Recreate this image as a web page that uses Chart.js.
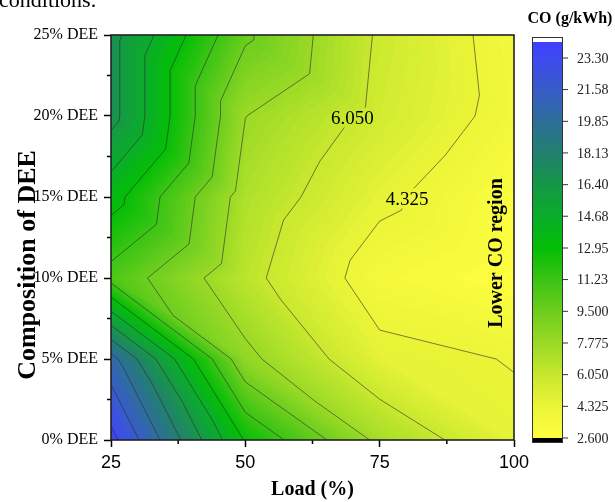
<!DOCTYPE html>
<html>
<head>
<meta charset="utf-8">
<script src="https://cdn.jsdelivr.net/npm/chart.js@4.4.0/dist/chart.umd.min.js"></script>
<style>
  html, body { margin: 0; padding: 0; background: #fff; }
  #wrap { position: relative; width: 615px; height: 502px; }
</style>
</head>
<body>
<div id="wrap"><canvas id="myChart" width="615" height="502"></canvas></div>
<script>
// grid of the measurements
const loads = [25, 50, 75, 100];
const deeLevels = [0, 5, 10, 15, 20, 25];
// CO (g/kWh) per DEE level, one value per load
const co0 = [23.9, 12.8, 7.37, 4.65];
const co5 = [20.5, 8.2, 4.75, 4.26];
const co10 = [10.62, 6.51, 3.56, 2.65];
const co15 = [13.64, 7.04, 4.65, 2.97];
const co20 = [17.0, 7.8, 5.61, 3.8];
const co25 = [17.0, 9.76, 5.84, 3.66];
const coRows = [co0, co5, co10, co15, co20, co25];

const contourLevels = [2.6, 4.325, 6.05, 7.775, 9.5, 11.23, 12.95, 14.68, 16.4, 18.13, 19.85, 21.58, 23.3];
const barLabels = ['2.600', '4.325', '6.050', '7.775', '9.500', '11.23', '12.95', '14.68', '16.40', '18.13', '19.85', '21.58', '23.30'];
const coMax = 24.17;
const yTickLabels = ['0% DEE', '5% DEE', '10% DEE', '15% DEE', '20% DEE', '25% DEE'];
const lineLabels = ['6.050', '4.325'];
const lineLabelLoad = [69.9, 80.1];
const lineLabelDEE = [19.9, 14.9];

const colorStops = [
  [2.6, [255, 255, 64]],
  [4.325, [236, 245, 56]],
  [6.05, [200, 232, 46]],
  [7.775, [155, 218, 38]],
  [9.5, [110, 206, 30]],
  [11.23, [58, 196, 20]],
  [12.95, [4, 190, 6]],
  [14.68, [10, 173, 42]],
  [16.4, [22, 152, 71]],
  [18.13, [34, 128, 111]],
  [19.85, [45, 111, 153]],
  [21.58, [56, 92, 200]],
  [23.3, [62, 74, 240]],
  [24.2, [64, 64, 255]]
];

function colorAt(v) {
  if (v <= colorStops[0][0]) return colorStops[0][1];
  for (let k = 1; k < colorStops.length; k++) {
    if (v <= colorStops[k][0]) {
      const a = colorStops[k - 1], b = colorStops[k];
      const t = (v - a[0]) / (b[0] - a[0]);
      return [0, 1, 2].map(c => a[1][c] + t * (b[1][c] - a[1][c]));
    }
  }
  return colorStops[colorStops.length - 1][1];
}

function findCell(arr, v) {
  for (let i = 0; i < arr.length - 2; i++) {
    if (v < arr[i + 1]) return i;
  }
  return arr.length - 2;
}

// linear interpolation on triangles (cell split top-left to bottom-right)
function coAt(L, D) {
  const i = findCell(loads, L), j = findCell(deeLevels, D);
  const u = (L - loads[i]) / (loads[i + 1] - loads[i]);
  const v = (D - deeLevels[j]) / (deeLevels[j + 1] - deeLevels[j]);
  const bl = coRows[j][i], br = coRows[j][i + 1], tl = coRows[j + 1][i], tr = coRows[j + 1][i + 1];
  if (u + v <= 1) return bl + u * (br - bl) + v * (tl - bl);
  return tr + (1 - u) * (tl - tr) + (1 - v) * (br - tr);
}

function triangles() {
  const out = [];
  for (let j = 0; j < deeLevels.length - 1; j++) {
    for (let i = 0; i < loads.length - 1; i++) {
      const bl = { x: loads[i], y: deeLevels[j], z: coRows[j][i] };
      const br = { x: loads[i + 1], y: deeLevels[j], z: coRows[j][i + 1] };
      const tl = { x: loads[i], y: deeLevels[j + 1], z: coRows[j + 1][i] };
      const tr = { x: loads[i + 1], y: deeLevels[j + 1], z: coRows[j + 1][i + 1] };
      out.push([bl, br, tl], [tr, tl, br]);
    }
  }
  return out;
}

function crossings(tri, c) {
  const pts = [];
  for (let k = 0; k < 3; k++) {
    const a = tri[k], b = tri[(k + 1) % 3];
    if ((a.z < c) !== (b.z < c)) {
      const t = (c - a.z) / (b.z - a.z);
      pts.push({ x: a.x + t * (b.x - a.x), y: a.y + t * (b.y - a.y) });
    }
  }
  return pts;
}

const contourPlugin = {
  id: 'contour',
  beforeDatasetsDraw(chart) {
    const ctx = chart.ctx;
    const xS = chart.scales.x, yS = chart.scales.y;
    const area = chart.chartArea;
    const x0 = Math.round(area.left), y0 = Math.round(area.top);
    const w = Math.round(area.right) - x0, h = Math.round(area.bottom) - y0;
    const img = ctx.createImageData(w, h);
    const band = 1.725 / 8;
    for (let py = 0; py < h; py++) {
      let D = yS.getValueForPixel(y0 + py + 0.5);
      D = Math.min(25, Math.max(0, D));
      for (let px = 0; px < w; px++) {
        let L = xS.getValueForPixel(x0 + px + 0.5);
        L = Math.min(100, Math.max(25, L));
        const z = Math.floor(coAt(L, D) / band) * band + band / 2;
        const col = colorAt(z);
        const o = (py * w + px) * 4;
        img.data[o] = col[0];
        img.data[o + 1] = col[1];
        img.data[o + 2] = col[2];
        img.data[o + 3] = 255;
      }
    }
    ctx.putImageData(img, x0, y0);

    // contour lines, with gaps under the labels
    ctx.save();
    ctx.font = '19px "Liberation Serif", "Times New Roman", serif';
    ctx.beginPath();
    ctx.rect(area.left, area.top, area.right - area.left, area.bottom - area.top);
    const boxes = lineLabels.map((t, k) => {
      const cx = xS.getPixelForValue(lineLabelLoad[k]);
      const cy = yS.getPixelForValue(lineLabelDEE[k]);
      const tw = ctx.measureText(t).width + 6;
      return { cx, cy, tw, th: 20 };
    });
    boxes.forEach(b => ctx.rect(b.cx - b.tw / 2, b.cy - b.th / 2, b.tw, b.th));
    ctx.clip('evenodd');
    ctx.strokeStyle = 'rgba(45,45,45,0.75)';
    ctx.lineWidth = 0.8;
    const tris = triangles();
    contourLevels.forEach(c => {
      tris.forEach(tri => {
        const p = crossings(tri, c);
        if (p.length === 2) {
          ctx.beginPath();
          ctx.moveTo(xS.getPixelForValue(p[0].x), yS.getPixelForValue(p[0].y));
          ctx.lineTo(xS.getPixelForValue(p[1].x), yS.getPixelForValue(p[1].y));
          ctx.stroke();
        }
      });
    });
    ctx.restore();

    ctx.save();
    ctx.font = '19px "Liberation Serif", "Times New Roman", serif';
    ctx.fillStyle = '#000';
    ctx.textAlign = 'center';
    ctx.textBaseline = 'middle';
    boxes.forEach((b, k) => ctx.fillText(lineLabels[k], b.cx, b.cy + 1));
    ctx.restore();
  },
  afterDraw(chart) {
    const ctx = chart.ctx;
    const xS = chart.scales.x, yS = chart.scales.y, cb = chart.scales.cb;
    const area = chart.chartArea;
    ctx.save();
    // minor ticks
    ctx.strokeStyle = '#000';
    ctx.lineWidth = 1.5;
    ctx.beginPath();
    for (let d = 2.5; d < 25; d += 5) {
      const y = yS.getPixelForValue(d);
      ctx.moveTo(area.left - 4, y);
      ctx.lineTo(area.left, y);
    }
    for (let l = 37.5; l < 100; l += 25) {
      const x = xS.getPixelForValue(l);
      ctx.moveTo(x, area.bottom);
      ctx.lineTo(x, area.bottom + 4);
    }
    ctx.stroke();
    // frame
    ctx.strokeStyle = '#222';
    ctx.lineWidth = 1.6;
    ctx.strokeRect(area.left, area.top, area.right - area.left, area.bottom - area.top);

    // colour bar
    const bx = 532, bw = 31;
    const top = Math.round(cb.getPixelForValue(coMax));
    const bottom = Math.round(cb.getPixelForValue(contourLevels[0]));
    for (let y = top; y < bottom; y++) {
      const col = colorAt(cb.getValueForPixel(y + 0.5));
      ctx.fillStyle = `rgb(${col[0] | 0},${col[1] | 0},${col[2] | 0})`;
      ctx.fillRect(bx, y, bw, 1);
    }
    ctx.fillStyle = '#fff';
    ctx.fillRect(bx, top - 5, bw, 5);
    ctx.fillStyle = '#000';
    ctx.fillRect(bx, bottom, bw, 5);
    ctx.strokeStyle = '#333';
    ctx.lineWidth = 1;
    ctx.strokeRect(bx + 0.5, top - 5 + 0.5, bw - 1, bottom - top + 10 - 1);

    ctx.font = '14px "Liberation Serif", "Times New Roman", serif';
    ctx.fillStyle = '#222';
    ctx.textAlign = 'left';
    ctx.textBaseline = 'middle';
    ctx.beginPath();
    contourLevels.forEach((v, k) => {
      const y = cb.getPixelForValue(v);
      ctx.moveTo(bx + bw, y);
      ctx.lineTo(bx + bw + 5, y);
      ctx.fillText(barLabels[k], bx + bw + 14, y + 1);
    });
    ctx.strokeStyle = '#333';
    ctx.stroke();

    // texts
    ctx.fillStyle = '#000';
    ctx.font = 'bold 16px "Liberation Serif", "Times New Roman", serif';
    ctx.textAlign = 'center';
    ctx.fillText('CO (g/kWh)', 570, 19);
    ctx.font = '22px "Liberation Serif", "Times New Roman", serif';
    ctx.textAlign = 'left';
    ctx.textBaseline = 'alphabetic';
    ctx.fillText('conditions.', -1, 7);

    ctx.save();
    ctx.translate(497, 253);
    ctx.rotate(-Math.PI / 2);
    ctx.font = 'bold 20px "Liberation Serif", "Times New Roman", serif';
    ctx.textAlign = 'center';
    ctx.textBaseline = 'middle';
    ctx.fillText('Lower CO region', 0, 0);
    ctx.restore();

    // y axis title
    ctx.save();
    ctx.translate(28, 265);
    ctx.rotate(-Math.PI / 2);
    ctx.font = 'bold 26px "Liberation Serif", "Times New Roman", serif';
    ctx.textAlign = 'center';
    ctx.textBaseline = 'middle';
    ctx.fillText('Composition of DEE', 0, 0);
    ctx.restore();
    ctx.restore();
  }
};

const points = [];
deeLevels.forEach((d, j) => loads.forEach((l, i) => points.push({ x: l, y: d, z: coRows[j][i] })));

const ctx = document.getElementById('myChart');
const chart = new Chart(ctx, {
  type: 'scatter',
  data: {
    datasets: [{
      label: 'CO (g/kWh)',
      data: points,
      pointRadius: 0,
      pointHoverRadius: 0
    }]
  },
  options: {
    responsive: false,
    animation: false,
    devicePixelRatio: 1,
    layout: { padding: { top: 35, right: 101, left: 0, bottom: 0 } },
    plugins: { legend: { display: false }, tooltip: { enabled: false } },
    scales: {
      x: {
        type: 'linear',
        min: 25,
        max: 100,
        afterFit: s => { s.height = 62; },
        afterBuildTicks: s => { s.ticks = loads.map(v => ({ value: v })); },
        ticks: {
          autoSkip: false,
          maxRotation: 0,
          padding: 5,
          color: '#000',
          font: { family: '"Liberation Sans", Arial, sans-serif', size: 18 },
          callback: v => String(v)
        },
        grid: { drawOnChartArea: false, tickLength: 7, tickColor: '#000', tickWidth: 1.5 },
        border: { display: false },
        title: {
          display: true,
          text: 'Load (%)',
          color: '#000',
          padding: { top: 0, bottom: 0 },
          font: { family: '"Liberation Serif", "Times New Roman", serif', size: 20, weight: 'bold' }
        }
      },
      y: {
        type: 'linear',
        min: 0,
        max: 25,
        afterFit: s => { s.width = 111; },
        afterBuildTicks: s => { s.ticks = deeLevels.map(v => ({ value: v })); },
        ticks: {
          autoSkip: false,
          padding: 6,
          color: '#000',
          font: { family: '"Liberation Serif", "Times New Roman", serif', size: 16 },
          callback: v => yTickLabels[deeLevels.indexOf(v)]
        },
        grid: { drawOnChartArea: false, tickLength: 7, tickColor: '#000', tickWidth: 1.5 },
        border: { display: false },
        title: { display: false }
      },
      cb: {
        type: 'linear',
        axis: 'y',
        position: 'right',
        display: false,
        min: 2.491,
        max: 24.553
      }
    }
  },
  plugins: [contourPlugin]
});
</script>
</body>
</html>
